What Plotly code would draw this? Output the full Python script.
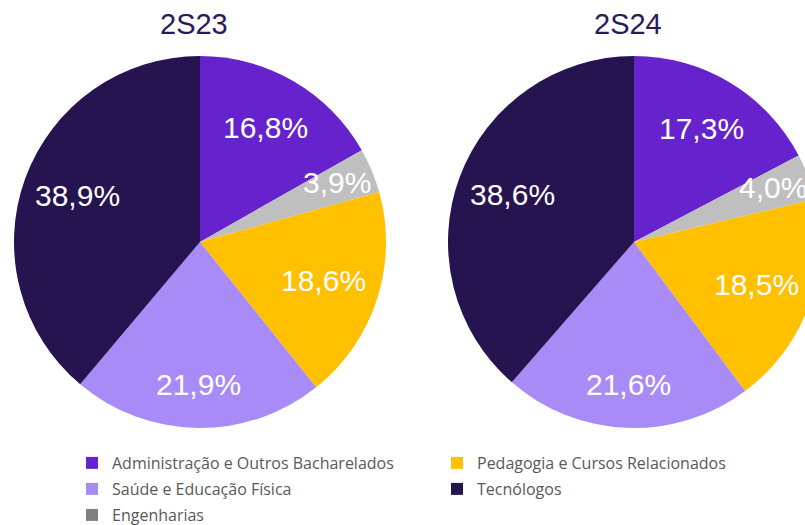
import math
import plotly.graph_objects as go

# ---------------- data ----------------
categories = ["Administração e Outros Bacharelados", "Engenharias",
              "Pedagogia e Cursos Relacionados", "Saúde e Educação Física", "Tecnólogos"]
values_2s23 = [16.8, 3.9, 18.6, 21.9, 38.9]
values_2s24 = [17.3, 4.0, 18.5, 21.6, 38.6]
period_labels = ["2S23", "2S24"]
legend_rows = [["Administração e Outros Bacharelados", "Pedagogia e Cursos Relacionados"],
               ["Saúde e Educação Física", "Tecnólogos"],
               ["Engenharias"]]

# ---------------- style ----------------
slice_colors = {"Administração e Outros Bacharelados": "#6622CC",
                "Engenharias": "#BFBFBF",
                "Pedagogia e Cursos Relacionados": "#FFC000",
                "Saúde e Educação Física": "#A98BF7",
                "Tecnólogos": "#261450"}
legend_colors = dict(slice_colors, **{"Engenharias": "#808080"})
label_r = [0.70, 0.80, 0.70, 0.775, 0.70]
label_dy = -2               # small optical lift of the percentage labels (px)

W, H = 820, 525
MB = 97                     # bottom margin (pies end at y=428)
PH = H - MB                 # plot-area height
R = 186
centers = [(200, 242), (634, 242)]
title_y = 24
legend_x = 72
legend_row_y = [463, 489, 515]

fig = go.Figure()
annotations = []


def px_to_paper(x, y):
    return x / W, (PH - y) / PH


def px_to_container(x, y):
    return x / W, (H - y) / H


for (cx, cy), vals, title in zip(centers, [values_2s23, values_2s24], period_labels):
    x0, y0 = px_to_paper(cx - R, cy + R)
    x1, y1 = px_to_paper(cx + R, cy - R)
    fig.add_trace(go.Pie(
        labels=categories, values=vals, sort=False, direction="clockwise", rotation=0,
        marker=dict(colors=[slice_colors[c] for c in categories], line=dict(width=0)),
        textinfo="none", hoverinfo="label+percent", showlegend=False,
        domain=dict(x=[max(0, x0), min(1, x1)], y=[max(0, y0), min(1, y1)]),
    ))
    total = sum(vals)
    cum = 0.0
    for i, v in enumerate(vals):
        th = 2 * math.pi * (cum + v / 2) / total
        cum += v
        lx = cx + label_r[i] * R * math.sin(th)
        ly = cy - label_r[i] * R * math.cos(th) + label_dy
        px, py = px_to_paper(lx, ly)
        annotations.append(dict(
            x=px, y=py, xref="paper", yref="paper", showarrow=False,
            text=f"{v:.1f}%".replace(".", ","),
            font=dict(family="Liberation Sans, Arial", size=30, color="#FFFFFF"),
            xanchor="center", yanchor="middle"))
    tx, ty = px_to_paper(cx - 6, title_y)
    annotations.append(dict(
        x=tx, y=ty, xref="paper", yref="paper", showarrow=False, text=title,
        font=dict(family="Liberation Sans, Arial", size=29, color="#2B1A5A"),
        xanchor="center", yanchor="middle"))

# legend-only pies (tiny, hidden domain) to reproduce the legend layout
legend_ids = ["legend", "legend2", "legend3"]
for lid, row in zip(legend_ids, legend_rows):
    fig.add_trace(go.Pie(
        labels=row, values=[values_2s23[categories.index(c)] for c in row], sort=False,
        marker=dict(colors=[legend_colors[c] for c in row], line=dict(width=0)),
        textinfo="none", hoverinfo="skip", showlegend=True, legend=lid,
        domain=dict(x=[0.9995, 1], y=[0.9995, 1]),
    ))

leg_common = dict(orientation="h", entrywidth=320, entrywidthmode="pixels",
                  font=dict(family="Open Sans", size=16, color="#595959"),
                  bgcolor="rgba(0,0,0,0)", borderwidth=0,
                  xref="container", yref="container",
                  xanchor="left", yanchor="middle")
layout_legends = {}
for lid, y in zip(legend_ids, legend_row_y):
    lx, ly = px_to_container(legend_x, y)
    layout_legends[lid] = dict(leg_common, x=lx, y=ly)

fig.update_layout(
    width=W, height=H, margin=dict(l=0, r=0, t=0, b=MB),
    paper_bgcolor="white", plot_bgcolor="white",
    annotations=annotations, **layout_legends,
)

fig.write_html("out.html", config={"displayModeBar": False},
               post_script="document.body.style.margin='0';document.body.style.overflow='hidden';")
